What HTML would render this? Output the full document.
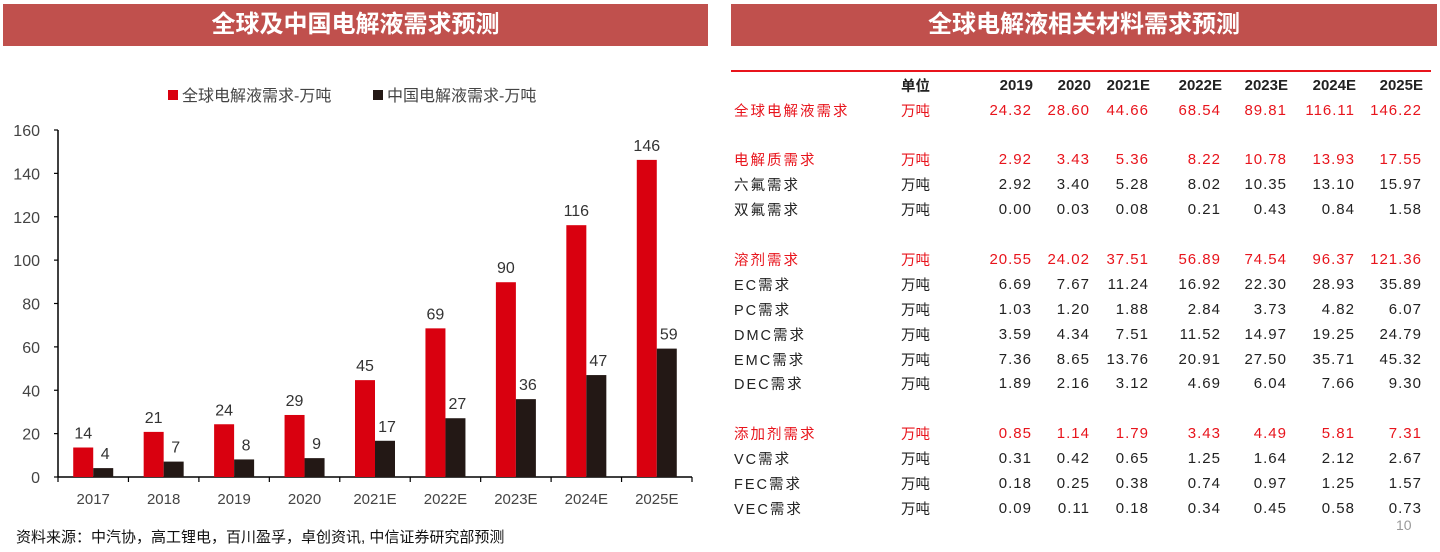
<!DOCTYPE html>
<html><head><meta charset="utf-8">
<style>
body{margin:0;width:1440px;height:552px;background:#fff;overflow:hidden;position:relative;font-family:"Liberation Sans","Noto Sans CJK SC",sans-serif;}
.tb{position:absolute;top:4px;height:42px;background:#c0504d;color:#fff;font-weight:bold;font-size:24px;text-align:center;line-height:42px;}
#tbl{position:absolute;left:0;top:0;}
.t{position:absolute;font-size:14.5px;white-space:nowrap;color:#222;}
.n{text-align:right;letter-spacing:1px;font-size:15px;margin-top:2px;}
.r{color:#e8141c;}
.h{font-weight:bold;}
</style></head><body>
<div class="tb" style="left:3px;width:705px;">全球及中国电解液需求预测</div>
<div class="tb" style="left:731px;width:706px;">全球电解液相关材料需求预测</div>

<svg id="chart" width="720" height="552" style="position:absolute;left:0;top:0;font-family:'Liberation Sans','Noto Sans CJK SC',sans-serif;"></svg>

<div style="position:absolute;left:16px;top:526px;font-size:15px;color:#111;">资料来源：中汽协，高工锂电，百川盈孚，卓创资讯, 中信证券研究部预测</div>
<div style="position:absolute;left:1396px;top:517px;font-size:14px;color:#999;">10</div>

<div style="position:absolute;left:731px;top:70px;width:700px;height:2px;background:#e8141c;"></div>
<div id="tbl"></div>

<script>
const categories=["2017","2018","2019","2020","2021E","2022E","2023E","2024E","2025E"];
const globalDemand=[13.6,20.8,24.32,28.6,44.66,68.54,89.81,116.11,146.22];
const chinaDemand=[4.1,7.1,8.1,8.7,16.7,27.1,35.9,47.0,59.2];
const globalLabels=["14","21","24","29","45","69","90","116","146"];
const chinaLabels=["4","7","8","9","17","27","36","47","59"];
const yTicks=[0,20,40,60,80,100,120,140,160];

const NS="http://www.w3.org/2000/svg";
const svg=document.getElementById('chart');
const x0=58,x1=692,yBase=477,yTop=130,yMax=160;
const step=(x1-x0)/categories.length;
const ys=v=>yBase-(v/yMax)*(yBase-yTop);
const xc=i=>x0+step*(i+0.5);
function mk(tag,attrs,txt){const e=document.createElementNS(NS,tag);for(const k in attrs)e.setAttribute(k,attrs[k]);if(txt!==undefined)e.textContent=txt;svg.appendChild(e);return e;}

let e;
e=mk('rect',{x:168,y:90,width:10,height:10,fill:'#d9000f'});


e=mk('text',{x:182,y:101,'font-size':16,fill:'#444'},'全球电解液需求-万吨');


e=mk('rect',{x:373,y:90,width:10,height:10,fill:'#231815'});


e=mk('text',{x:387,y:101,'font-size':16,fill:'#444'},'中国电解液需求-万吨');



e=mk('line',{x1:x0,y1:yTop,x2:x0,y2:yBase,stroke:'#000','stroke-width':1.5});


yTicks.forEach(t=>{
  const y=ys(t);
  e=mk('line',{x1:x0-4,y1:y,x2:x0,y2:y,stroke:'#000','stroke-width':1.2});
  
  
  e=mk('text',{x:40,y:y+6,'font-size':16,fill:'#444','text-anchor':'end'},String(t));
  
  
});
e=mk('line',{x1:x0,y1:yBase,x2:x1,y2:yBase,stroke:'#000','stroke-width':1.5});


for(let i=0;i<=categories.length;i++){
  e=mk('line',{x1:x0+step*i,y1:yBase,x2:x0+step*i,y2:yBase+5,stroke:'#000','stroke-width':1.2});
  
  
}
const bw=20;
categories.forEach((c,i)=>{
  const cx=xc(i);
  e=mk('rect',{x:cx-bw,y:ys(globalDemand[i]),width:bw,height:yBase-ys(globalDemand[i]),fill:'#d9000f'});
  
  
  e=mk('rect',{x:cx,y:ys(chinaDemand[i]),width:bw,height:yBase-ys(chinaDemand[i]),fill:'#231815'});
  
  
  e=mk('text',{x:cx-bw/2,y:ys(globalDemand[i])-9,'font-size':16,fill:'#333','text-anchor':'middle'},globalLabels[i]);
  
  
  e=mk('text',{x:cx+bw/2+2,y:ys(chinaDemand[i])-9,'font-size':16,fill:'#333','text-anchor':'middle'},chinaLabels[i]);
  
  
  e=mk('text',{x:cx,y:504,'font-size':15,fill:'#444','text-anchor':'middle'},c);
  
  
});

const colYears=["2019","2020","2021E","2022E","2023E","2024E","2025E"];
const colRight=[1032,1090,1149,1221,1287,1355,1422];
const rows=[
 ["全球电解液需求",1,110,["24.32","28.60","44.66","68.54","89.81","116.11","146.22"]],
 ["电解质需求",1,159,["2.92","3.43","5.36","8.22","10.78","13.93","17.55"]],
 ["六氟需求",0,184,["2.92","3.40","5.28","8.02","10.35","13.10","15.97"]],
 ["双氟需求",0,209,["0.00","0.03","0.08","0.21","0.43","0.84","1.58"]],
 ["溶剂需求",1,259,["20.55","24.02","37.51","56.89","74.54","96.37","121.36"]],
 ["EC需求",0,284,["6.69","7.67","11.24","16.92","22.30","28.93","35.89"]],
 ["PC需求",0,309,["1.03","1.20","1.88","2.84","3.73","4.82","6.07"]],
 ["DMC需求",0,334,["3.59","4.34","7.51","11.52","14.97","19.25","24.79"]],
 ["EMC需求",0,359,["7.36","8.65","13.76","20.91","27.50","35.71","45.32"]],
 ["DEC需求",0,383,["1.89","2.16","3.12","4.69","6.04","7.66","9.30"]],
 ["添加剂需求",1,433,["0.85","1.14","1.79","3.43","4.49","5.81","7.31"]],
 ["VC需求",0,458,["0.31","0.42","0.65","1.25","1.64","2.12","2.67"]],
 ["FEC需求",0,483,["0.18","0.25","0.38","0.74","0.97","1.25","1.57"]],
 ["VEC需求",0,508,["0.09","0.11","0.18","0.34","0.45","0.58","0.73"]]
];
const tbl=document.getElementById('tbl');
function cell(txt,cls,left,top,right){const d=document.createElement('div');d.className='t '+cls;d.textContent=txt;d.style.top=(top-10)+'px';if(right!==undefined){d.style.left=(right-100)+'px';d.style.width='100px';}else d.style.left=left+'px';tbl.appendChild(d);return d;}
let d=cell('单位','h',901,85);


colYears.forEach((y,j)=>{
  d=cell(y,'h n',0,85,colRight[j]+1);
  d.style.letterSpacing='0';
  
  
});
rows.forEach(r=>{
  const red=r[1]?' r':'';
  d=cell(r[0],'lab'+red,734,r[2]);
  d.style.letterSpacing='2px';
  
  
  d=cell('万吨',red,901,r[2]);
  
  
  r[3].forEach((v,j)=>{
    d=cell(v,'n'+red,0,r[2],colRight[j]);
    
    
  });
});
</script>
</body></html>
